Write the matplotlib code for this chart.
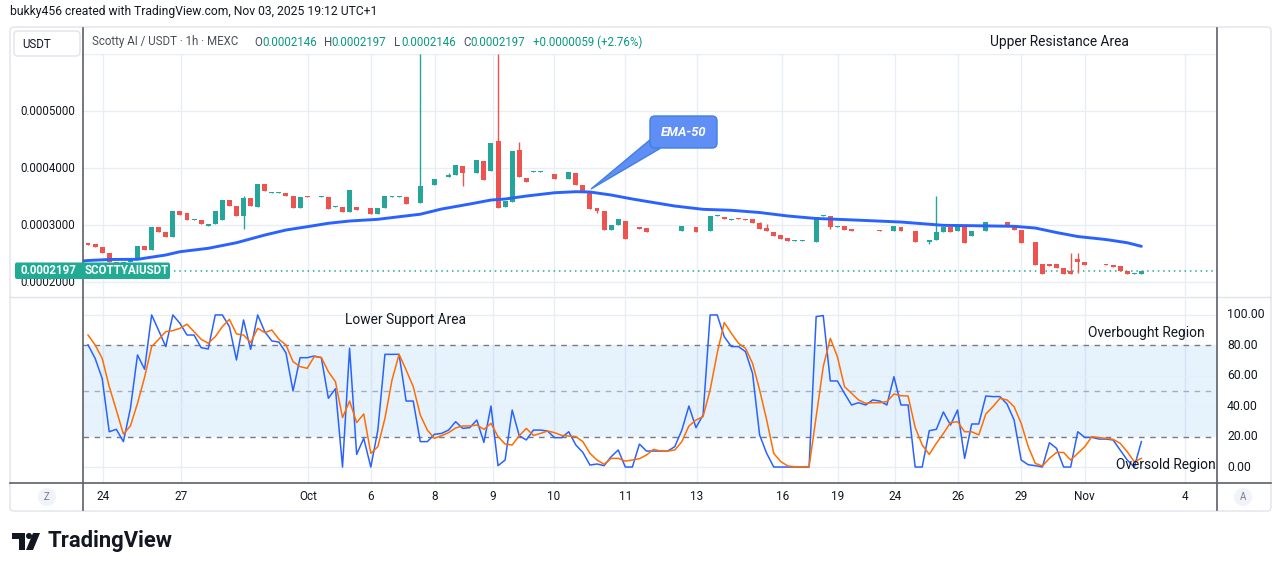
import matplotlib
matplotlib.use("Agg")
import matplotlib.pyplot as plt
import matplotlib.transforms as mtransforms
from matplotlib.patches import FancyBboxPatch, Polygon, Circle
from matplotlib.lines import Line2D
import numpy as np

plt.rcParams['font.family'] = ['Roboto', 'DejaVu Sans']

W, H = 1281, 571

# ---------------- data (prices in units of 1e-7 USDT) ----------------
PRICE_UNIT = 1e-7
opens = [
    2689, 2667, 2614, 2514, 2356, 2298, 2356, 2398, 2631, 2561,
    2965, 2882, 2795, 3245, 3205, 3087, 3093, 2988, 3012, 3087,
    3438, 3338, 3163, 3473, 3321, 3719, 3566, 3570, 3561, 3514,
    3303, 3514, 3505, 3496, 3491, 3321, 3316, 3233, 3316, 3312,
    3298, 3198, 3303, 3500, 3500, 3491, 3382, 3391, 3680, 3701,
    3835, 3835, 3877, 4035, 3915, 3907, 4122, 3952, 4478, 3321,
    3403, 4315, 3829, 3938, 3938, 3938, 3894, 3821, 3812, 3907,
    3701, 3573, 3298, 3240, 2912, 3000, 3070, 2758, 2959, 2942,
    2887, 2887, 2887, 2887, 2895, 2979, 2959, 2886, 2900, 3166,
    3135, 3096, 3117, 3105, 3100, 3030, 2952, 2877, 2824, 2775,
    2728, 2728, 2712, 2707, 3166, 3158, 2973, 2982, 2930, 2905,
    2905, 2905, 2908, 2905, 2900, 2965, 2905, 2895, 2717, 2707,
    2737, 2877, 2965, 2895, 2982, 2812, 2893, 2895, 3054, 3050,
    3052, 2995, 2912, 2717, 2702, 2310, 2316, 2316, 2246, 2198,
    2403, 2351, 2308, 2308, 2310, 2298, 2281, 2198, 2146, 2146,
]
closes = [
    2654, 2609, 2503, 2356, 2298, 2351, 2398, 2631, 2561, 2965,
    2882, 2795, 3245, 3175, 3087, 3105, 3012, 3012, 3251, 3438,
    3338, 3163, 3473, 3338, 3719, 3601, 3584, 3575, 3514, 3303,
    3491, 3496, 3509, 3503, 3275, 3338, 3233, 3619, 3263, 3316,
    3198, 3298, 3514, 3503, 3503, 3368, 3386, 3684, 3687, 3807,
    3840, 3877, 4052, 3907, 3920, 4140, 3789, 4438, 3303, 3421,
    4298, 3847, 3759, 3943, 3943, 3926, 3812, 3824, 3924, 3701,
    3573, 3280, 3240, 2912, 3000, 3105, 2759, 2761, 2935, 2877,
    2890, 2890, 2890, 2890, 2982, 2982, 2877, 2889, 3158, 3170,
    3100, 3100, 3105, 3087, 3030, 2935, 2895, 2812, 2754, 2724,
    2731, 2731, 2719, 3145, 3170, 2970, 2977, 2912, 2900, 2908,
    2908, 2908, 2902, 2908, 2982, 2900, 2908, 2707, 2720, 2737,
    2877, 2965, 2877, 2982, 2684, 2895, 2896, 3052, 3050, 3054,
    2995, 2912, 2689, 2720, 2298, 2146, 2281, 2246, 2146, 2146,
    2356, 2298, 2311, 2311, 2298, 2268, 2198, 2146, 2150, 2197,
]
# visible wicks (candle index -> price); other candles show no wick
high_wicks = {22: 3514, 47: 6000, 51: 3907, 58: 6000, 61: 4461, 95: 3052,
              96: 3012, 120: 3508, 139: 2509, 140: 2509}
low_wicks = {22: 2930, 53: 3684, 72: 3210, 105: 2935, 119: 2672, 140: 2163}

ema_idx = [-0.7, 0, 3, 7, 11, 13, 17, 21, 25, 28, 31, 34, 37, 41, 44, 47, 50, 54,
           57, 59, 62, 66, 69, 71, 74, 77, 80, 83, 87, 91, 95, 99, 103, 106,
           110, 115, 121, 125, 131, 134, 137, 140, 144, 147, 149]
ema_vals = [2370, 2377, 2395, 2398, 2474, 2531, 2591, 2689, 2824, 2912, 2970,
            3030, 3070, 3100, 3145, 3189, 3280, 3368, 3438, 3456, 3508, 3566,
            3584, 3579, 3526, 3456, 3394, 3333, 3275, 3258, 3219, 3158, 3114,
            3100, 3079, 3052, 2994, 2988, 2977, 2947, 2868, 2798, 2745, 2689,
            2626]

stoch_k = [
    80.3, 71.5, 58.3, 23.2, 24.8, 16.7, 38.6, 73.7, 64.3, 100,
    89.7, 79.2, 100, 94.5, 86.8, 86.8, 78.5, 77.6, 100, 100,
    92.3, 70.4, 96.7, 77.4, 100, 89.0, 82.9, 82.2, 75.0, 50.0,
    71.9, 71.9, 73.0, 71.9, 45.2, 51.5, 0, 78.1, 8.3, 18.9,
    0, 24.3, 74.1, 74.1, 74.1, 43.4, 43.4, 16.7, 16.7, 21.5,
    22.1, 24.3, 29.8, 25.4, 25.9, 30.9, 16.2, 40.1, 0.9, 4.6,
    37.5, 20.6, 17.8, 24.3, 24.3, 23.7, 19.3, 19.3, 23.2, 14.5,
    9.6, 1.3, 2.0, 0.9, 6.8, 11.2, 0, 0, 15.1, 10.5,
    10.5, 10.5, 10.5, 13.4, 24.3, 40.1, 25.9, 34.2, 100, 100,
    85.7, 79.2, 79.2, 75.9, 61.6, 21.1, 9.0, 0, 0, 0,
    0, 0, 0, 98.9, 99.6, 56.6, 56.6, 48.5, 40.8, 42.3,
    40.8, 44.1, 43.4, 40.8, 59.4, 40.8, 40.8, 0, 0, 23.9,
    24.8, 36.2, 27.6, 37.5, 5.7, 28.3, 28.3, 46.7, 46.3, 46.3,
    41.4, 30.9, 4.6, 1.5, 0.9, 0, 16.0, 12.3, 0, 0,
    23.2, 19.5, 19.5, 18.4, 18.4, 17.8, 11.2, 4.6, 0, 16.7,
]
stoch_d = [
    86.8, 80.3, 71.5, 52.9, 37.5, 21.7, 27.0, 41.9, 59.0, 79.2,
    84.0, 89.0, 89.7, 91.2, 93.9, 89.0, 84.0, 81.4, 85.7, 92.3,
    97.1, 87.5, 86.8, 81.8, 91.2, 88.4, 90.1, 84.0, 80.3, 69.3,
    66.0, 64.9, 72.6, 72.1, 62.7, 56.1, 32.5, 43.4, 29.2, 34.9,
    9.0, 13.4, 32.0, 57.2, 74.1, 63.8, 52.9, 34.2, 24.3, 18.9,
    20.6, 22.6, 25.7, 27.0, 27.0, 27.6, 24.8, 28.7, 20.0, 15.1,
    14.5, 20.6, 25.4, 20.8, 22.1, 23.7, 22.6, 20.8, 20.4, 20.0,
    16.7, 9.0, 4.6, 1.8, 5.7, 5.7, 3.9, 4.6, 5.5, 7.9,
    11.6, 10.5, 10.5, 11.2, 16.7, 27.0, 30.9, 33.1, 50.7, 74.8,
    95.0, 87.9, 81.4, 78.1, 68.2, 50.7, 30.9, 9.0, 3.5, 0.7,
    0.2, 0.2, 0.2, 33.0, 66.0, 84.6, 72.6, 52.9, 48.5, 44.1,
    41.9, 42.3, 42.3, 43.0, 48.0, 46.9, 46.7, 26.1, 14.5, 8.3,
    15.6, 22.1, 29.2, 29.8, 23.2, 23.2, 21.1, 34.9, 39.7, 45.2,
    44.1, 39.7, 28.7, 13.4, 2.4, 0.7, 5.7, 9.6, 9.6, 4.6,
    9.0, 13.4, 20.0, 19.3, 18.9, 18.2, 15.6, 10.1, 3.5, 5.7,
]

time_tick_pos = [2.1, 13.2, 31.1, 40.0, 49.1, 57.3, 65.9, 76.0, 86.1, 98.2,
                 106.1, 114.1, 123.1, 132.0, 141.0, 155.2]
time_tick_labels = ['24', '27', 'Oct', '6', '8', '9', '10', '11', '13', '16',
                    '19', '24', '26', '29', 'Nov', '4']
price_ticks = [0.0002, 0.0003, 0.0004, 0.0005, 0.0006]
price_tick_labels = ['0.0002000', '0.0003000', '0.0004000', '0.0005000']
osc_ticks = [0, 20, 40, 60, 80, 100]
osc_tick_labels = ['0.00', '20.00', '40.00', '60.00', '80.00', '100.00']
last_price = 0.0002197

# ---------------- style ----------------
UP = '#26a69a'
DOWN = '#ef5350'
GRID = '#e9eef4'
TXT = '#131722'
AXLINE = '#5d606b'

fig = plt.figure(figsize=(W / 100, H / 100), dpi=100)
fig.patch.set_facecolor('white')
pix = mtransforms.Affine2D().scale(1, -1).translate(0, H)


def axes_rect(x0, y0, x1, y1):
    return [x0 / W, 1 - y1 / H, (x1 - x0) / W, (y1 - y0) / H]


ax1 = fig.add_axes(axes_rect(83, 54, 1217, 296))
ax2 = fig.add_axes(axes_rect(83, 297, 1217, 483))
for ax in (ax1, ax2):
    ax.set_xlim(-0.71, 159.7)
    for s in ax.spines.values():
        s.set_visible(False)
    ax.set_xticks([])
    ax.set_yticks([])
    ax.set_facecolor('none')
    for t in time_tick_pos:
        ax.axvline(t, color=GRID, lw=1, zorder=0)
ax1.set_ylim(0.00017544, 0.0006)
ax2.set_ylim(-10.5, 111.8)

# ---- price pane ----
for p in price_ticks:
    ax1.axhline(p, color=GRID, lw=1, zorder=0)

o = np.array(opens) * PRICE_UNIT
c = np.array(closes) * PRICE_UNIT
hi = np.maximum(o, c)
lo = np.minimum(o, c)
for k, v in high_wicks.items():
    hi[k] = v * PRICE_UNIT
for k, v in low_wicks.items():
    lo[k] = v * PRICE_UNIT
x = np.arange(len(o))
cols = np.where(c >= o, UP, DOWN)
ax1.vlines(x, lo, hi, colors=cols, lw=1.0, zorder=3)
body = np.maximum(np.abs(c - o), 3.2e-7)
ax1.bar(x, body, bottom=np.minimum(o, c), width=0.7, color=cols,
        linewidth=0, zorder=3)

ax1.axhline(last_price, color='#22ab94', lw=1.1, ls=(0, (1, 2.5)), zorder=2)
ax1.plot(ema_idx, np.array(ema_vals) * PRICE_UNIT, color='#2962ff', lw=2.1,
         zorder=4, solid_capstyle='round')

# ---- oscillator pane ----
ax2.axhspan(20, 80, color=(33 / 255, 150 / 255, 243 / 255, 0.11), lw=0, zorder=0)
for v in [0, 40, 60, 100]:
    ax2.axhline(v, color=GRID, lw=1, zorder=0.5)
for v in [20, 80]:
    ax2.axhline(v, color='#787b86', lw=1, ls=(0, (4, 4)), zorder=1)
ax2.axhline(50, color='#a9acb5', lw=1, ls=(0, (4, 4)), zorder=1)
xi = np.arange(len(stoch_k))
ax2.plot(xi, stoch_k, color='#2962ff', lw=1.1, zorder=3)
ax2.plot(xi, stoch_d, color='#ff6d00', lw=1.1, zorder=3)

# ---------------- frame lines ----------------
fig.add_artist(FancyBboxPatch((10, 27), 1261, 484, boxstyle='round,pad=0,rounding_size=4',
                              transform=pix, facecolor='none', edgecolor='#e0e3eb',
                              lw=1, zorder=0))
fig.add_artist(Line2D([10, 1271], [296.5, 296.5], transform=pix, color='#e0e3eb', lw=1))
fig.add_artist(Line2D([10, 1271], [483, 483], transform=pix, color=AXLINE, lw=1.2))
fig.add_artist(Line2D([83, 83], [28, 510], transform=pix, color=AXLINE, lw=1.2))
fig.add_artist(Line2D([1217, 1217], [28, 510], transform=pix, color=AXLINE, lw=1.2))

# ---------------- axis labels ----------------
bl1 = mtransforms.blended_transform_factory(fig.transFigure, ax1.transData)
for p, lab in zip(price_ticks[:4], price_tick_labels):
    fig.text(75 / W, p, lab, transform=bl1, ha='right', va='center',
             fontsize=8.3, color=TXT)
bl2 = mtransforms.blended_transform_factory(fig.transFigure, ax2.transData)
for v, lab in zip(osc_ticks, osc_tick_labels):
    fig.text(1227 / W, v, lab, transform=bl2, ha='left', va='center',
             fontsize=8.8, color=TXT)
blx = mtransforms.blended_transform_factory(ax2.transData, fig.transFigure)
for t, lab in zip(time_tick_pos, time_tick_labels):
    fig.text(t, 1 - 497 / H, lab, transform=blx, ha='center', va='center',
             fontsize=8.5, color=TXT)

# Z / A buttons
for cx, lab in [(47, 'Z'), (1243, 'A')]:
    fig.add_artist(Circle((cx, 497), 9, transform=pix, facecolor='#f0f3fa',
                          edgecolor='none'))
    fig.text(cx, 497, lab, transform=pix, ha='center', va='center',
             fontsize=7, color='#787b86')

# ---------------- header ----------------
fig.text(10, 12, 'bukky456 created with TradingView.com, Nov 03, 2025 19:12 UTC+1',
         transform=pix, ha='left', va='center', fontsize=8.7, color=TXT)
fig.add_artist(FancyBboxPatch((14, 31), 66, 25, boxstyle='round,pad=0,rounding_size=4',
                              transform=pix, facecolor='white', edgecolor='#e0e3eb', lw=1))
fig.text(37, 44, 'USDT', transform=pix, ha='center', va='center', fontsize=8.3, color=TXT)

VAL = '#089981'
fig.text(92, 42, 'Scotty AI / USDT · 1h · MEXC', transform=pix, ha='left',
         va='center', fontsize=8.3, color='#4a4e59')
for xl, letter, xv, val in [(254, 'O', 262, '0.0002146'), (324, 'H', 331, '0.0002197'),
                            (394, 'L', 401, '0.0002146'), (463, 'C', 470, '0.0002197')]:
    fig.text(xl, 42, letter, transform=pix, ha='left', va='center', fontsize=8.3,
             color='#4a4e59')
    fig.text(xv, 42, val, transform=pix, ha='left', va='center', fontsize=8.3, color=VAL)
fig.text(533, 42, '+0.0000059 (+2.76%)', transform=pix, ha='left', va='center',
         fontsize=8.3, color=VAL)
fig.text(990, 42, 'Upper Resistance Area', transform=pix, ha='left', va='center',
         fontsize=9.9, color=TXT)

# ---------------- last price label ----------------
fig.add_artist(FancyBboxPatch((15, 262.5), 155, 16.5, boxstyle='round,pad=0,rounding_size=2',
                              transform=pix, facecolor='#22ab94', edgecolor='none', zorder=5))
fig.text(48, 271, '0.0002197', transform=pix, ha='center', va='center', fontsize=8.3,
         color='white', fontweight='bold', zorder=6)
fig.text(127, 271, 'SCOTTYAIUSDT', transform=pix, ha='center', va='center', fontsize=8.3,
         color='white', fontweight='bold', zorder=6)

# ---------------- EMA-50 callout ----------------
fig.add_artist(Polygon([(651, 139), (660, 148.5), (591, 189)], closed=True, transform=pix,
                       facecolor='#5f8ef5', edgecolor='#3f7fe6', lw=1, zorder=5))
fig.add_artist(FancyBboxPatch((650, 116), 67, 32, boxstyle='round,pad=0,rounding_size=5',
                              transform=pix, facecolor='#5f8ef5', edgecolor='#3f7fe6',
                              lw=1, zorder=5))
fig.text(683.5, 132, 'EMA-50', transform=pix, ha='center', va='center', fontsize=9.3,
         color='white', fontstyle='italic', fontweight='bold', zorder=6)

# ---------------- oscillator annotations ----------------
fig.text(345, 320, 'Lower Support Area', transform=pix, ha='left', va='center',
         fontsize=9.9, color=TXT)
fig.text(1088, 333, 'Overbought Region', transform=pix, ha='left', va='center',
         fontsize=9.9, color=TXT)
fig.text(1116, 465, 'Oversold Region', transform=pix, ha='left', va='center',
         fontsize=9.9, color=TXT)

# ---------------- TradingView logo ----------------
fig.add_artist(Polygon([(12, 533), (25, 533), (25, 550), (19, 550), (19, 539), (12, 539)],
                       closed=True, transform=pix, facecolor=TXT, edgecolor='none'))
fig.add_artist(Circle((29, 536), 3, transform=pix, facecolor=TXT, edgecolor='none'))
fig.add_artist(Polygon([(33, 533), (40, 533), (33, 550), (26, 550)], closed=True,
                       transform=pix, facecolor=TXT, edgecolor='none'))
fig.text(47, 541, 'TradingView', transform=pix, ha='left', va='center', fontsize=15.8,
         fontweight='bold', color=TXT)

fig.savefig('out.png', dpi=100, facecolor='white')
